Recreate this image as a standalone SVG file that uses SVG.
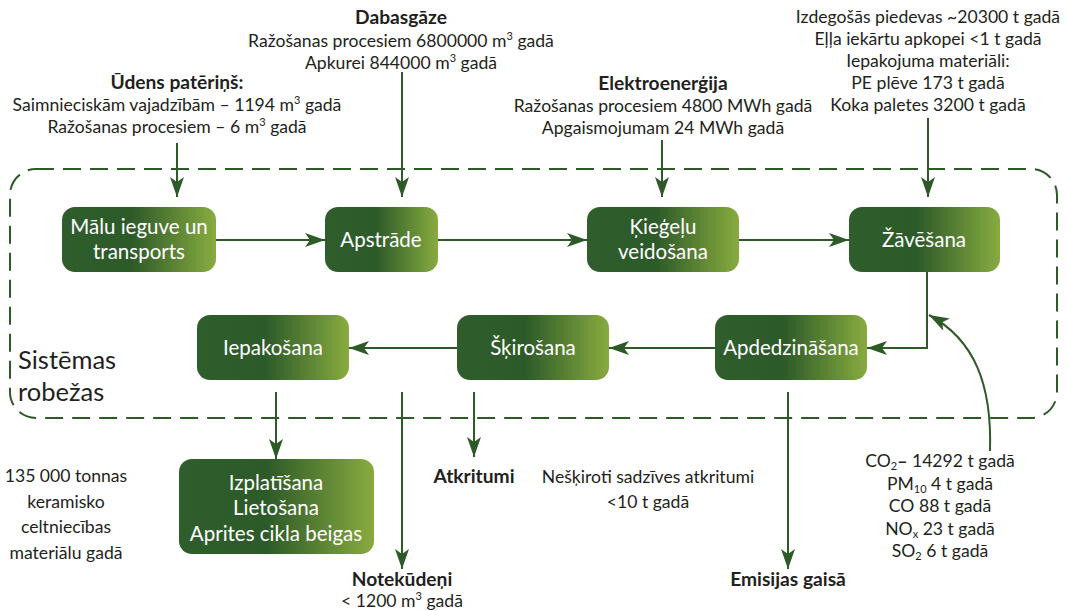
<svg xmlns="http://www.w3.org/2000/svg" width="1068" height="611" viewBox="0 0 1068 611">
<defs>
<linearGradient id="g" x1="0" y1="0" x2="1" y2="0">
<stop offset="0" stop-color="#2f5d2c"/>
<stop offset="0.45" stop-color="#2d5a29"/>
<stop offset="1" stop-color="#88ab3f"/>
</linearGradient>
<marker id="ah" markerUnits="userSpaceOnUse" markerWidth="22" markerHeight="14" refX="20" refY="7" orient="auto">
<path d="M0,0 L20,7 L0,14 L5,7 Z" fill="#2d5a27"/>
</marker>
<style>
.t{font-family:Lato,"Open Sans","Liberation Sans",sans-serif;font-size:17.6px;fill:#231f20;text-anchor:middle}
.b{font-weight:bold;font-size:19.2px}
.n{font-family:Lato,"Open Sans","Liberation Sans",sans-serif;font-size:20.5px;fill:#ffffff;text-anchor:middle}
.box{fill:url(#g)}
.c{stroke:#2d5a27;stroke-width:2;fill:none}
.a{marker-end:url(#ah)}
.s{font-size:11px}
</style>
</defs>
<rect x="10" y="169" width="1047" height="249" rx="26" fill="none" stroke="#2d5a27" stroke-width="2" stroke-dasharray="18 9"/>
<text class="t" x="18" y="369" style="text-anchor:start;font-size:25.5px">Sistēmas</text>
<text class="t" x="18" y="401" style="text-anchor:start;font-size:25.5px">robežas</text>
<g id="connectors">
<path class="c a" d="M177,143 V197"/>
<path class="c a" d="M402,72 V197"/>
<path class="c a" d="M662,140 V197"/>
<path class="c a" d="M928,118 V197"/>
<path class="c a" d="M216,240 H325"/>
<path class="c a" d="M438,240 H587"/>
<path class="c a" d="M739,240 H849"/>
<path class="c a" d="M927,272 V348 H867"/>
<path class="c a" d="M715,348 H609"/>
<path class="c a" d="M457,348 H349"/>
<path class="c a" d="M276,392 V459"/>
<path class="c a" d="M402,392 V569"/>
<path class="c a" d="M474,392 V457"/>
<path class="c a" d="M788,392 V569"/>
<path class="c a" d="M990,451 C992,385 975,340 929,315"/>
</g>
<g id="n1"><rect class="box" x="62" y="207" width="154" height="65" rx="13"/><text class="n" x="139" y="234">Mālu ieguve un</text><text class="n" x="139" y="259">transports</text></g>
<g id="n2"><rect class="box" x="325" y="207" width="113" height="65" rx="13"/><text class="n" x="381" y="247">Apstrāde</text></g>
<g id="n3"><rect class="box" x="587" y="207" width="152" height="65" rx="13"/><text class="n" x="663" y="234">Ķieģeļu</text><text class="n" x="663" y="259">veidošana</text></g>
<g id="n4"><rect class="box" x="849" y="207" width="151" height="65" rx="13"/><text class="n" x="924" y="247">Žāvēšana</text></g>
<g id="n5"><rect class="box" x="715" y="315" width="152" height="65" rx="13"/><text class="n" x="791" y="355">Apdedzināšana</text></g>
<g id="n6"><rect class="box" x="457" y="315" width="152" height="65" rx="13"/><text class="n" x="533" y="355">Šķirošana</text></g>
<g id="n7"><rect class="box" x="197" y="315" width="152" height="65" rx="13"/><text class="n" x="273" y="355">Iepakošana</text></g>
<g id="n8"><rect class="box" x="179" y="459" width="195" height="95" rx="13"/><text class="n" x="276" y="490">Izplatīšana</text><text class="n" x="276" y="515">Lietošana</text><text class="n" x="276" y="541">Aprites cikla beigas</text></g>
<g id="water"><text class="t b" x="177" y="89">Ūdens patēriņš:</text><text class="t" x="177" y="111">Saimnieciskām vajadzībām – 1194 m<tspan class="s" dy="-7">3</tspan><tspan dy="7"> gadā</tspan></text><text class="t" x="177" y="133">Ražošanas procesiem –  6 m<tspan class="s" dy="-7">3</tspan><tspan dy="7"> gadā</tspan></text></g>
<g id="gas"><text class="t b" x="401" y="24">Dabasgāze</text><text class="t" x="401" y="47">Ražošanas procesiem 6800000 m<tspan class="s" dy="-7">3</tspan><tspan dy="7"> gadā</tspan></text><text class="t" x="401" y="69">Apkurei 844000 m<tspan class="s" dy="-7">3</tspan><tspan dy="7"> gadā</tspan></text></g>
<g id="elec"><text class="t b" x="663" y="90">Elektroenerģija</text><text class="t" x="663" y="112">Ražošanas procesiem 4800 MWh gadā</text><text class="t" x="663" y="134">Apgaismojumam 24 MWh gadā</text></g>
<g id="additives"><text class="t" x="928" y="23">Izdegošās piedevas ~20300 t gadā</text><text class="t" x="928" y="45">Eļļa iekārtu apkopei &lt;1 t gadā</text><text class="t" x="928" y="67">Iepakojuma materiāli:</text><text class="t" x="928" y="89">PE plēve 173 t gadā</text><text class="t" x="928" y="111">Koka paletes 3200 t gadā</text></g>
<g id="product"><text class="t" x="66" y="482">135 000 tonnas</text><text class="t" x="66" y="508">keramisko</text><text class="t" x="66" y="533">celtniecības</text><text class="t" x="66" y="559">materiālu gadā</text></g>
<g id="waste"><text class="t b" x="474" y="483">Atkritumi</text><text class="t" x="648" y="483">Nešķiroti sadzīves atkritumi</text><text class="t" x="648" y="508">&lt;10 t gadā</text></g>
<g id="wastewater"><text class="t b" x="402" y="586">Notekūdeņi</text><text class="t" x="402" y="607">&lt; 1200 m<tspan class="s" dy="-7">3</tspan><tspan dy="7"> gadā</tspan></text></g>
<g id="emissions"><text class="t b" x="788" y="586">Emisijas gaisā</text></g>
<g id="emis-list"><text class="t" x="940" y="467">CO<tspan class="s" dy="3">2</tspan><tspan dy="-3" font-weight="bold">–</tspan> 14292 t  gadā</text><text class="t" x="940" y="490">PM<tspan class="s" dy="3">10</tspan><tspan dy="-3"> 4 t  gadā</tspan></text><text class="t" x="940" y="512">CO 88 t  gadā</text><text class="t" x="940" y="535">NO<tspan class="s" dy="3">x</tspan><tspan dy="-3"> 23 t  gadā</tspan></text><text class="t" x="940" y="557">SO<tspan class="s" dy="3">2</tspan><tspan dy="-3"> 6 t  gadā</tspan></text></g>
</svg>
